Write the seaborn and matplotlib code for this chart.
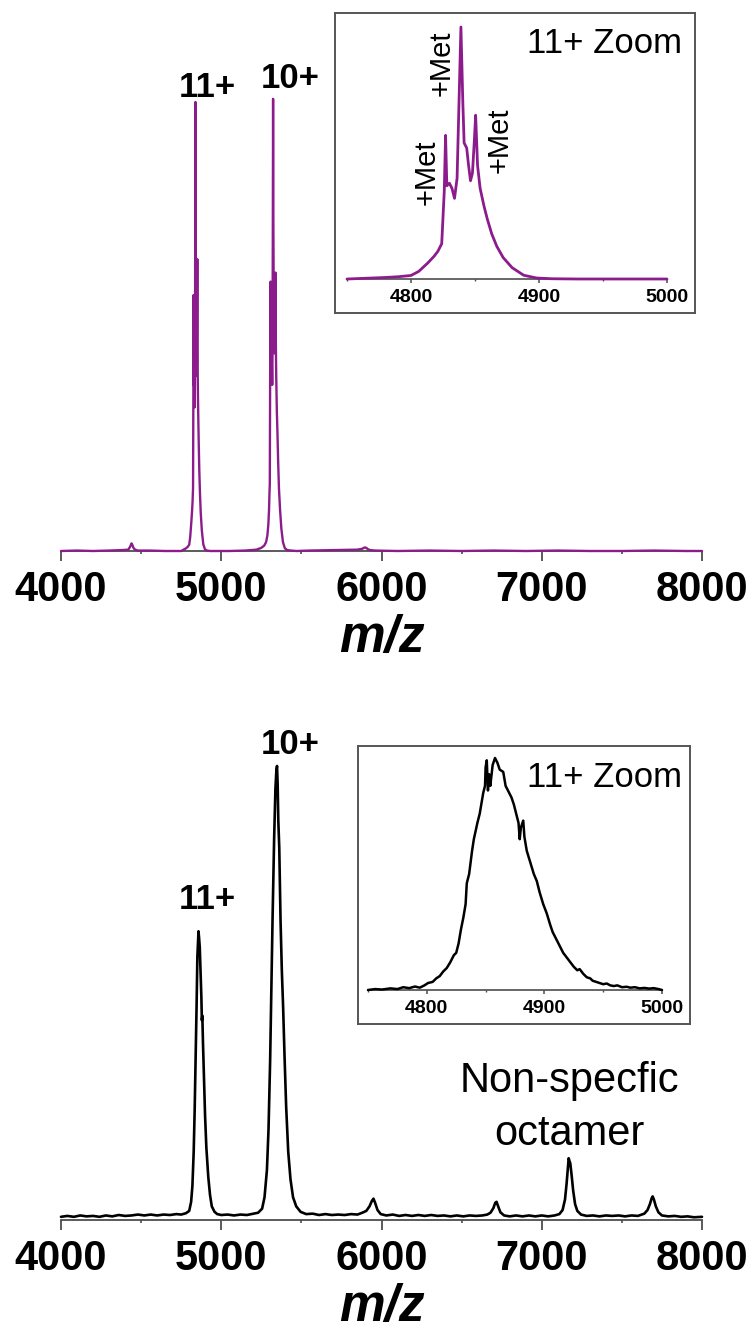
import pandas as pd
import seaborn as sns
import matplotlib.pyplot as plt
from matplotlib.ticker import MultipleLocator

# ---------------- data (m/z, normalised intensity) ----------------
# top spectrum (purple)
top_left = [(4000, 0.0), (4100, 0.001), (4200, 0.0), (4300, 0.001), (4380, 0.002), (4420, 0.003),
            (4432, 0.01), (4440, 0.017), (4446, 0.013), (4452, 0.007), (4462, 0.003), (4480, 0.001),
            (4550, 0.001), (4650, 0.0), (4720, 0.0)]
# 11+ zoom (purple) - same peak as the 11+ in the full spectrum
zoom_top = [(4750, 0.0), (4760, 0.002), (4770, 0.004), (4780, 0.006), (4790, 0.009), (4800, 0.014),
            (4806, 0.03), (4813, 0.063), (4818, 0.09), (4821, 0.11), (4824, 0.14), (4826, 0.35),
            (4827, 0.57), (4828, 0.37), (4830, 0.38), (4832, 0.36), (4834, 0.32), (4836, 0.40),
            (4837.5, 0.70), (4839, 1.0), (4840.5, 0.70), (4841.5, 0.54), (4843.5, 0.52), (4845, 0.45),
            (4846.5, 0.39), (4848, 0.42), (4849.5, 0.55), (4850.5, 0.65), (4852, 0.45), (4854, 0.36),
            (4857, 0.29), (4859.5, 0.24), (4863, 0.18), (4867, 0.13), (4872, 0.085), (4879, 0.045),
            (4888, 0.015), (4898, 0.004), (4910, 0.001), (4930, 0.0), (4960, 0.0), (5000, 0.0)]
top_right = [(5050, 0.0), (5150, 0.001), (5220, 0.003), (5250, 0.007), (5268, 0.012), (5280, 0.02),
             (5288, 0.035), (5294, 0.06), (5298, 0.09), (5301, 0.13), (5303, 0.15), (5305, 0.38),
             (5308, 0.60), (5311, 0.42), (5314, 0.43), (5316, 0.41), (5318, 0.37), (5320, 0.44),
             (5322, 0.75), (5323.5, 1.007), (5325, 0.75), (5327, 0.60), (5330, 0.58), (5332, 0.50),
             (5334, 0.44), (5336, 0.48), (5337, 0.58), (5338.5, 0.62), (5340, 0.48), (5343, 0.39),
             (5347, 0.31), (5351, 0.26), (5355, 0.2), (5360, 0.14), (5367, 0.092), (5375, 0.05),
             (5385, 0.02), (5397, 0.006), (5412, 0.002), (5435, 0.001), (5470, 0.0), (5550, 0.001),
             (5700, 0.002), (5850, 0.003), (5880, 0.005), (5895, 0.008), (5905, 0.007), (5915, 0.004),
             (5930, 0.002), (5960, 0.001), (6100, 0.0), (6300, 0.001), (6500, 0.0), (6700, 0.001),
             (6900, 0.0), (7100, 0.001), (7300, 0.0), (7500, 0.0), (7700, 0.001), (7900, 0.0), (8000, 0.0)]

# bottom spectrum (black)
bot_base1 = [(4000, 0.007), (4040, 0.009), (4080, 0.007), (4120, 0.01), (4160, 0.008), (4200, 0.009),
             (4240, 0.007), (4280, 0.01), (4320, 0.008), (4360, 0.011), (4400, 0.009), (4440, 0.01),
             (4480, 0.012), (4520, 0.01), (4560, 0.012), (4600, 0.01), (4640, 0.012), (4680, 0.011),
             (4720, 0.013), (4750, 0.012)]
bot_11 = [(4780, 0.015), (4800, 0.02), (4812, 0.04), (4820, 0.075), (4828, 0.15), (4834, 0.24),
          (4840, 0.35), (4846, 0.47), (4851, 0.58), (4855, 0.61), (4858, 0.636), (4862, 0.62),
          (4866, 0.60), (4872, 0.53), (4876, 0.49), (4879, 0.44), (4882, 0.45), (4886, 0.39),
          (4893, 0.30), (4899, 0.23), (4907, 0.16), (4919, 0.095), (4930, 0.055), (4941, 0.03),
          (4958, 0.018), (4975, 0.013), (5000, 0.011), (5040, 0.012), (5080, 0.01), (5120, 0.012),
          (5160, 0.011), (5200, 0.014)]
bot_10 = [(5230, 0.016), (5255, 0.025), (5270, 0.05), (5285, 0.11), (5295, 0.2), (5305, 0.35),
          (5312, 0.5), (5320, 0.66), (5330, 0.84), (5338, 0.95), (5344, 0.99), (5348, 1.0),
          (5352, 0.96), (5356, 0.88), (5362, 0.82), (5370, 0.66), (5378, 0.55), (5386, 0.47),
          (5395, 0.36), (5405, 0.25), (5418, 0.15), (5432, 0.09), (5448, 0.05), (5468, 0.03),
          (5495, 0.018), (5530, 0.013)]
bot_rest = [(5570, 0.014), (5610, 0.011), (5650, 0.013), (5690, 0.011), (5730, 0.012), (5770, 0.011),
            (5810, 0.013), (5850, 0.012), (5880, 0.016), (5905, 0.02), (5925, 0.03), (5940, 0.042),
            (5950, 0.047), (5960, 0.038), (5975, 0.022), (5995, 0.013), (6030, 0.01), (6070, 0.012),
            (6110, 0.009), (6150, 0.011), (6190, 0.009), (6230, 0.011), (6270, 0.009), (6310, 0.011),
            (6350, 0.009), (6390, 0.01), (6430, 0.008), (6470, 0.01), (6510, 0.008), (6550, 0.01),
            (6590, 0.009), (6630, 0.01), (6660, 0.012), (6680, 0.016), (6698, 0.026), (6710, 0.038),
            (6718, 0.04), (6728, 0.03), (6742, 0.017), (6765, 0.01), (6800, 0.008), (6840, 0.01),
            (6880, 0.008), (6920, 0.01), (6960, 0.008), (7000, 0.01), (7040, 0.008), (7080, 0.01),
            (7110, 0.013), (7130, 0.022), (7145, 0.045), (7155, 0.08), (7163, 0.115), (7168, 0.136),
            (7173, 0.13), (7178, 0.125), (7186, 0.1), (7196, 0.065), (7208, 0.035), (7222, 0.02),
            (7245, 0.012), (7280, 0.009), (7320, 0.01), (7360, 0.008), (7400, 0.01), (7440, 0.009),
            (7480, 0.01), (7520, 0.008), (7560, 0.01), (7600, 0.009), (7640, 0.014), (7660, 0.022),
            (7675, 0.035), (7686, 0.048), (7692, 0.052), (7700, 0.045), (7712, 0.03), (7728, 0.017),
            (7750, 0.01), (7790, 0.008), (7830, 0.009), (7870, 0.007), (7910, 0.008), (7950, 0.006),
            (8000, 0.007)]
# 11+ zoom (black)
zoom_bot = [(4750, 0.0), (4756, 0.004), (4762, 0.002), (4769, 0.007), (4775, 0.004), (4780, 0.012),
            (4785, 0.008), (4790, 0.015), (4794, 0.01), (4798, 0.02), (4801, 0.03), (4805, 0.035),
            (4808, 0.05), (4811, 0.06), (4814, 0.08), (4817, 0.095), (4820, 0.12), (4823, 0.15),
            (4825, 0.16), (4827, 0.2), (4829, 0.26), (4831, 0.31), (4833, 0.37), (4834, 0.46),
            (4836, 0.5), (4838.5, 0.6), (4840, 0.65), (4843, 0.72), (4845, 0.76), (4847, 0.82),
            (4848, 0.85), (4849.5, 0.88), (4850, 0.96), (4851, 0.99), (4852, 0.86), (4853, 0.93),
            (4854, 0.88), (4856, 0.97), (4858, 1.0), (4860, 0.98), (4862, 0.95), (4865, 0.94),
            (4867, 0.88), (4869, 0.86), (4872, 0.83), (4874, 0.8), (4876, 0.76), (4878, 0.72),
            (4879, 0.65), (4880, 0.7), (4882, 0.73), (4883, 0.66), (4885, 0.6), (4888, 0.55),
            (4891, 0.5), (4893.5, 0.47), (4896, 0.42), (4899, 0.37), (4902, 0.33), (4905, 0.28),
            (4907, 0.25), (4910, 0.22), (4913, 0.19), (4916, 0.16), (4919, 0.14), (4922, 0.12),
            (4925, 0.1), (4928, 0.085), (4930, 0.09), (4933, 0.07), (4936, 0.055), (4939, 0.05),
            (4941, 0.04), (4944, 0.035), (4947, 0.03), (4950, 0.025), (4953, 0.028), (4956, 0.02),
            (4959, 0.017), (4962, 0.02), (4966, 0.012), (4970, 0.014), (4973, 0.01), (4977, 0.012),
            (4981, 0.007), (4985, 0.009), (4989, 0.006), (4993, 0.008), (4997, 0.004), (5000, 0.0)]

main_ticks = [4000, 5000, 6000, 7000, 8000]
zoom_ticks = [4800, 4900, 5000]

PURPLE = '#8c1c8c'
SPINE = '#4d4d4d'

sns.set_theme(style='white')
plt.rcParams['font.family'] = ['Liberation Sans', 'DejaVu Sans']
plt.rcParams['text.color'] = 'black'

W, H = 754, 1332
fig = plt.figure(figsize=(W / 100, H / 100), dpi=100)


def px_axes(x0, y0, x1, y1):
    # box given in pixels from the top-left corner
    return fig.add_axes([x0 / W, 1 - y1 / H, (x1 - x0) / W, (y1 - y0) / H])


def to_df(*parts):
    pts = [p for part in parts for p in part]
    return pd.DataFrame(pts, columns=['mz', 'intensity'])


def trace(ax, df, color, lw):
    sns.lineplot(data=df, x='mz', y='intensity', ax=ax, color=color, lw=lw,
                 estimator=None, sort=False, clip_on=False, zorder=3)


def style_main(ax, ymax, label_y):
    ax.set_xlim(4000, 8000)
    ax.set_ylim(0, ymax)
    for s in ['left', 'right', 'top']:
        ax.spines[s].set_visible(False)
    ax.spines['bottom'].set_color(SPINE)
    ax.spines['bottom'].set_linewidth(1.3)
    ax.set_yticks([])
    ax.set_ylabel('')
    ax.set_xticks(main_ticks, labels=[str(t) for t in main_ticks], fontsize=30, fontweight='bold')
    ax.xaxis.set_minor_locator(MultipleLocator(500))
    ax.tick_params(axis='x', which='major', direction='out', length=7, width=1.3,
                   color=SPINE, labelcolor='black', pad=7, bottom=True)
    ax.tick_params(axis='x', which='minor', direction='out', length=2.5, width=1.2,
                   color=SPINE, bottom=True)
    ax.set_xlabel('m/z', fontsize=37, fontweight='bold', fontstyle='italic', color='black')
    ax.xaxis.set_label_coords(0.5, label_y)
    ax.patch.set_alpha(0)


def style_box(ax):
    ax.set_xticks([])
    ax.set_yticks([])
    for s in ax.spines.values():
        s.set_visible(True)
        s.set_color('#555555')
        s.set_linewidth(1.4)
    ax.set_facecolor('white')


def style_zoom(ax, ymax):
    ax.set_xlim(4750, 5000)
    ax.set_ylim(0, ymax)
    for s in ['left', 'right', 'top']:
        ax.spines[s].set_visible(False)
    ax.spines['bottom'].set_color(SPINE)
    ax.spines['bottom'].set_linewidth(1.2)
    ax.set_yticks([])
    ax.set_ylabel('')
    ax.set_xlabel('')
    ax.set_xticks(zoom_ticks, labels=[str(t) for t in zoom_ticks], fontsize=14, fontweight='bold')
    ax.xaxis.set_minor_locator(MultipleLocator(50))
    ax.tick_params(axis='x', which='major', direction='out', length=3, width=1.1,
                   color=SPINE, labelcolor='black', pad=4, bottom=True)
    ax.tick_params(axis='x', which='minor', direction='out', length=1.5, width=1.0,
                   color=SPINE, bottom=True)
    ax.patch.set_alpha(0)


# ---------------- top panel ----------------
ax1 = px_axes(61, 60, 702, 551)
trace(ax1, to_df(top_left, zoom_top, top_right), PURPLE, 1.7)
style_main(ax1, 491 / 449, -0.128)
ax1.text(4911, 1.011, '11+', ha='center', va='baseline', fontsize=25, fontweight='bold')
ax1.text(5429, 1.031, '10+', ha='center', va='baseline', fontsize=25, fontweight='bold')

box1 = px_axes(335, 13, 695, 313)
style_box(box1)
box1.text(0.964, 0.867, '11+ Zoom', transform=box1.transAxes, ha='right', va='baseline', fontsize=25)
in1 = px_axes(347, 20, 667, 279)
trace(in1, to_df(zoom_top), PURPLE, 2.0)
style_zoom(in1, 259 / 252)
in1.text(4812.5, 0.425, '+Met', rotation=90, ha='center', va='center', fontsize=21)
in1.text(4824, 0.857, '+Met', rotation=90, ha='center', va='center', fontsize=21)
in1.text(4869.5, 0.552, '+Met', rotation=90, ha='center', va='center', fontsize=21)

# ---------------- bottom panel ----------------
ax2 = px_axes(61, 700, 702, 1220)
trace(ax2, to_df(bot_base1, bot_11, bot_10, bot_rest), 'black', 1.9)
style_main(ax2, 520 / 454, -0.121)
ax2.text(4910, 0.685, '11+', ha='center', va='baseline', fontsize=25, fontweight='bold')
ax2.text(5428, 1.026, '10+', ha='center', va='baseline', fontsize=25, fontweight='bold')
ax2.text(7170, 0.282, 'Non-specfic', ha='center', va='baseline', fontsize=30)
ax2.text(7170, 0.165, 'octamer', ha='center', va='baseline', fontsize=30)

box2 = px_axes(358, 746, 690, 1024)
style_box(box2)
box2.text(0.976, 0.853, '11+ Zoom', transform=box2.transAxes, ha='right', va='baseline', fontsize=25)
in2 = px_axes(368, 752, 662, 990)
trace(in2, to_df(zoom_bot), 'black', 1.8)
style_zoom(in2, 238 / 232)

fig.savefig('out.png', dpi=100)
